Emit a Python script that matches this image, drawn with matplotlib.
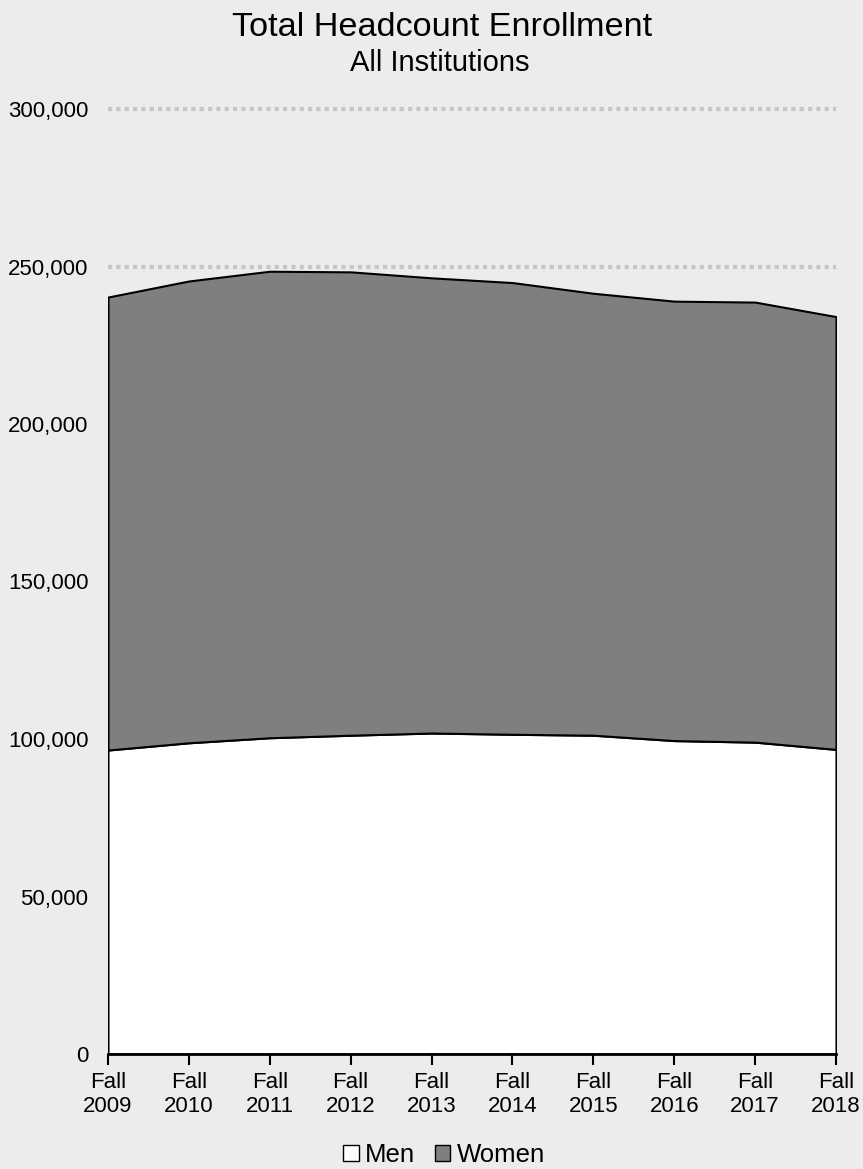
import matplotlib.pyplot as plt
from matplotlib.patches import Patch

plt.rcParams['font.family'] = ['Liberation Sans', 'DejaVu Sans']

years = ["Fall\n2009", "Fall\n2010", "Fall\n2011", "Fall\n2012", "Fall\n2013",
         "Fall\n2014", "Fall\n2015", "Fall\n2016", "Fall\n2017", "Fall\n2018"]
men = [96500, 98800, 100400, 101200, 101900, 101500, 101200, 99500, 99000, 96700]
women = [143800, 146600, 148100, 147100, 144500, 143400, 140300, 139500, 139700, 137400]

bg = "#ececec"
fig = plt.figure(figsize=(8.63, 11.69), dpi=100, facecolor=bg)
ax = fig.add_axes([108/863, 115/1169, 728/863, 945/1169], facecolor=bg)

x = list(range(len(years)))
ax.stackplot(x, men, women, colors=["white", "#7f7f7f"], edgecolor="black",
             linewidth=1.5, zorder=2)

# dotted gridlines (only visible above the area)
for v in range(50000, 300001, 50000):
    ax.axhline(v, color="#c6c6c6", linestyle=(0, (1, 1)), linewidth=3,
               zorder=1, clip_on=False)

ax.set_xlim(0, len(years) - 1)
ax.set_ylim(0, 300000)
ax.set_yticks(range(0, 300001, 50000))
ax.set_yticklabels([f"{v:,}" for v in range(0, 300001, 50000)], fontsize=16)
ax.set_xticks(x)
ax.set_xticklabels(years, fontsize=16, linespacing=1.2)
ax.tick_params(axis="y", length=0, pad=14)
ax.tick_params(axis="x", length=8, width=1.5, direction="out", pad=5)

for s in ["top", "right", "left"]:
    ax.spines[s].set_visible(False)
ax.spines["bottom"].set_linewidth(2)
ax.spines["bottom"].set_zorder(3)

fig.text(442/863, 1 - 28/1169, "Total Headcount Enrollment", ha="center", va="center", fontsize=24.7)
fig.text(440/863, 1 - 63/1169, "All Institutions", ha="center", va="center", fontsize=21)

handles = [Patch(facecolor="white", edgecolor="black", label="Men"),
           Patch(facecolor="#7f7f7f", edgecolor="black", label="Women")]
fig.legend(handles=handles, loc="center", bbox_to_anchor=(444/863, 1 - 1155/1169), ncol=2,
           frameon=False, fontsize=18.5, handlelength=0.6, handleheight=0.6,
           handletextpad=0.25, columnspacing=0.75)

fig.savefig("out.png", dpi=100, facecolor=bg)
